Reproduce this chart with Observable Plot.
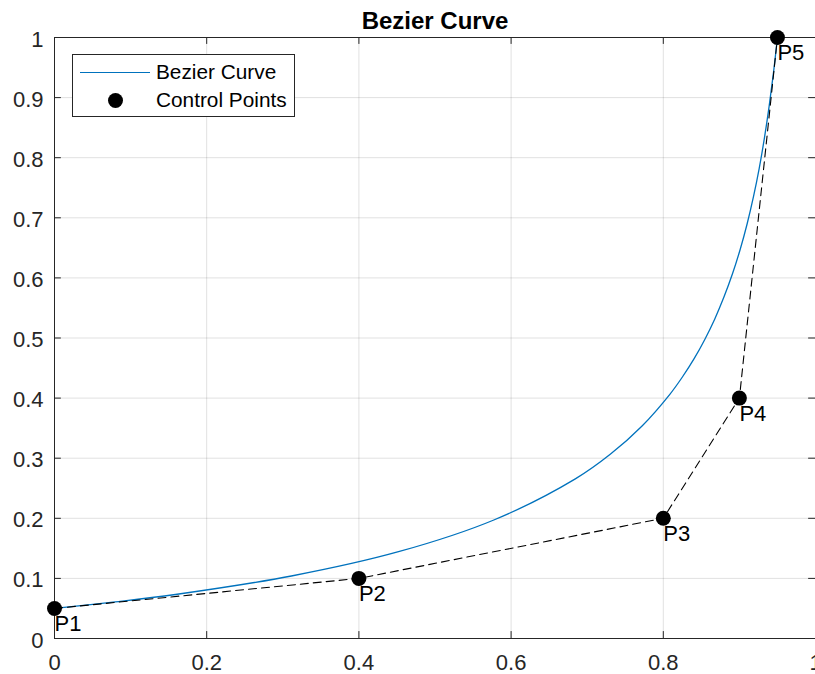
<!DOCTYPE html>
<html>
<head>
<meta charset="utf-8">
<script src="https://cdn.jsdelivr.net/npm/d3@7"></script>
<script src="https://cdn.jsdelivr.net/npm/@observablehq/plot@0.6"></script>
<style>
  html, body { margin: 0; padding: 0; background: #fff; }
  #wrap { position: relative; width: 815px; height: 674px; font-family: "Liberation Sans", Arial, sans-serif; }
  #legend {
    position: absolute; left: 72px; top: 54px; width: 223px; height: 63px;
    border: 1px solid #262626; background: #fff; box-sizing: border-box;
    font-size: 20.8px; color: #000;
  }
  #legend .line { position: absolute; left: 7px; top: 17px; width: 70px; height: 0; border-top: 1.3px solid #0072BD; }
  #legend .dot { position: absolute; left: 35px; top: 38px; width: 15px; height: 15px; border-radius: 50%; background: #000; }
  #legend .lab { position: absolute; left: 83px; line-height: 1; white-space: nowrap; }
</style>
</head>
<body>
<div id="wrap">
  <div id="chart"></div>
  <div id="legend">
    <div class="line"></div><span class="lab" style="top:7px">Bezier Curve</span>
    <div class="dot"></div><span class="lab" style="top:35px">Control Points</span>
  </div>
</div>
<script>
// Control points of the quartic Bezier
const ctrlNames = ["P1", "P2", "P3", "P4", "P5"];
const ctrlX = [0, 0.4, 0.8, 0.9, 0.95];
const ctrlY = [0.05, 0.1, 0.2, 0.4, 1];

// Points along the drawn curve
const curveX = [0, 0.0799, 0.1589, 0.3113, 0.4521, 0.5773, 0.6844, 0.7307, 0.7721, 0.8086, 0.8251, 0.8405, 0.8547, 0.8678, 0.8798, 0.8909, 0.9010, 0.9102, 0.9185, 0.9261, 0.9329, 0.9391, 0.9448, 0.95];
const curveY = [0.05, 0.0608, 0.0732, 0.1040, 0.1444, 0.1972, 0.2656, 0.3069, 0.3536, 0.4063, 0.4351, 0.4656, 0.4980, 0.5322, 0.5685, 0.6068, 0.6473, 0.6901, 0.7352, 0.7828, 0.8330, 0.8859, 0.9415, 1];

const xTicks = [0, 0.2, 0.4, 0.6, 0.8, 1];
const yTicks = [0, 0.1, 0.2, 0.3, 0.4, 0.5, 0.6, 0.7, 0.8, 0.9, 1];
const title = "Bezier Curve";

const ctrl = ctrlNames.map((name, i) => ({name, x: ctrlX[i], y: ctrlY[i]}));
const curve = curveX.map((x, i) => ({x, y: curveY[i]}));

const axisColor = "#262626";
const font = "'Liberation Sans', Arial, sans-serif";
const fmt = d => String(d);

const chart = Plot.plot({
  width: 815,
  height: 674,
  marginLeft: 54,
  marginRight: 0,
  marginTop: 37,
  marginBottom: 36,
  style: {fontFamily: font, fontSize: "22px", color: "#262626", background: "#fff"},
  x: {domain: [0, 1]},
  y: {domain: [0, 1]},
  marks: [
    Plot.gridX(xTicks, {stroke: "#000", strokeOpacity: 0.12}),
    Plot.gridY(yTicks, {stroke: "#000", strokeOpacity: 0.12}),
    Plot.frame({stroke: axisColor, strokeWidth: 1}),
    // inward tick marks on all four sides
    Plot.ruleX(xTicks, {x: d => d, y1: 0, y2: 0.0115, stroke: axisColor}),
    Plot.ruleX(xTicks, {x: d => d, y1: 0.9885, y2: 1, stroke: axisColor}),
    Plot.ruleY(yTicks, {y: d => d, x1: 0, x2: 0.009, stroke: axisColor}),
    Plot.ruleY(yTicks, {y: d => d, x1: 0.991, x2: 1, stroke: axisColor}),
    Plot.axisX(xTicks, {tickSize: 0, tickPadding: 16, tickFormat: fmt, fontSize: 22, label: null, fill: axisColor}),
    Plot.axisY(yTicks, {tickSize: 0, tickPadding: 11, tickFormat: fmt, fontSize: 22, label: null, fill: axisColor, dy: 2}),
    Plot.line(curve, {x: "x", y: "y", stroke: "#0072BD", strokeWidth: 1.3, curve: "catmull-rom"}),
    Plot.line(ctrl, {x: "x", y: "y", stroke: "#000", strokeWidth: 1.1, strokeDasharray: "8,5"}),
    Plot.dot(ctrl, {x: "x", y: "y", r: 7.5, fill: "#000", stroke: "none"}),
    Plot.text(ctrl, {x: "x", y: "y", text: "name", textAnchor: "start", lineAnchor: "top", dx: 0, dy: 7, fontSize: 22, fill: "#000"}),
    Plot.text([title], {frameAnchor: "top", dy: -26, lineAnchor: "top", text: d => d, fontSize: 24, fontWeight: "bold", fill: "#000"})
  ]
});
document.getElementById("chart").appendChild(chart);
</script>
</body>
</html>
